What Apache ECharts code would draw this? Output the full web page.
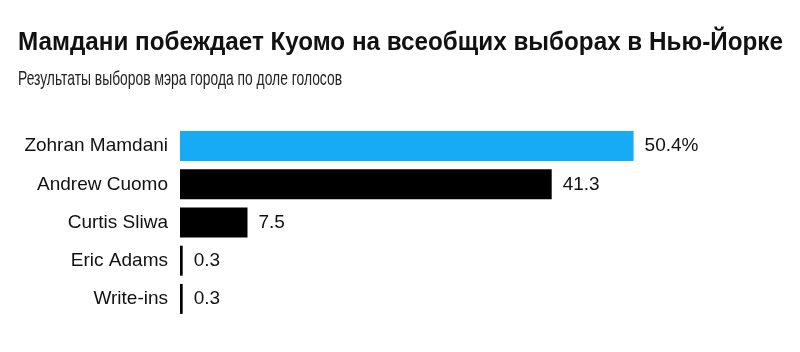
<!DOCTYPE html>
<html>
<head>
<meta charset="utf-8">
<script src="https://cdn.jsdelivr.net/npm/echarts@6/dist/echarts.min.js"></script>
<style>
  html, body { margin: 0; padding: 0; background: #fff; }
  #chart { width: 800px; height: 352px; }
</style>
</head>
<body>
<div id="chart"></div>
<script>
var titleText = 'Мамдани побеждает Куомо на всеобщих выборах в Нью-Йорке';
var subtitleText = 'Результаты выборов мэра города по доле голосов';
var candidates = ['Zohran Mamdani', 'Andrew Cuomo', 'Curtis Sliwa', 'Eric Adams', 'Write-ins'];
var shares = [50.4, 41.3, 7.5, 0.3, 0.3];
var barColors = ['#17abf5', '#000000', '#000000', '#000000', '#000000'];

var chart = echarts.init(document.getElementById('chart'));

// header is a narrow face in the original, squeeze a regular one
chart.setOption({
  animation: false,
  backgroundColor: '#fff',
  graphic: [
    {
      type: 'text',
      x: 18,
      y: 43,
      scaleX: 0.97,
      style: {
        text: titleText,
        font: 'bold 25px "Liberation Sans", Arial, sans-serif',
        fill: '#111',
        verticalAlign: 'middle'
      }
    },
    {
      type: 'text',
      x: 18,
      y: 79,
      scaleX: 0.66,
      style: {
        text: subtitleText,
        font: '21px "Liberation Sans", Arial, sans-serif',
        fill: '#222',
        verticalAlign: 'middle'
      }
    }
  ],
  grid: { left: 180, top: 127, width: 540, height: 191 },
  xAxis: {
    type: 'value',
    min: 0,
    max: 60,
    show: false
  },
  yAxis: {
    type: 'category',
    data: candidates,
    inverse: true,
    axisLine: { show: false },
    axisTick: { show: false },
    axisLabel: {
      margin: 12,
      fontFamily: 'Liberation Sans, Arial, sans-serif',
      fontSize: 19,
      color: '#111'
    }
  },
  series: [{
    type: 'bar',
    barWidth: 30,
    data: shares.map(function (v, i) {
      return { value: v, itemStyle: { color: barColors[i] } };
    }),
    label: {
      show: true,
      position: 'right',
      distance: 11,
      fontFamily: 'Liberation Sans, Arial, sans-serif',
      fontSize: 19,
      color: '#111',
      formatter: function (p) {
        return p.dataIndex === 0 ? p.value + '%' : String(p.value);
      }
    }
  }]
});
</script>
</body>
</html>
